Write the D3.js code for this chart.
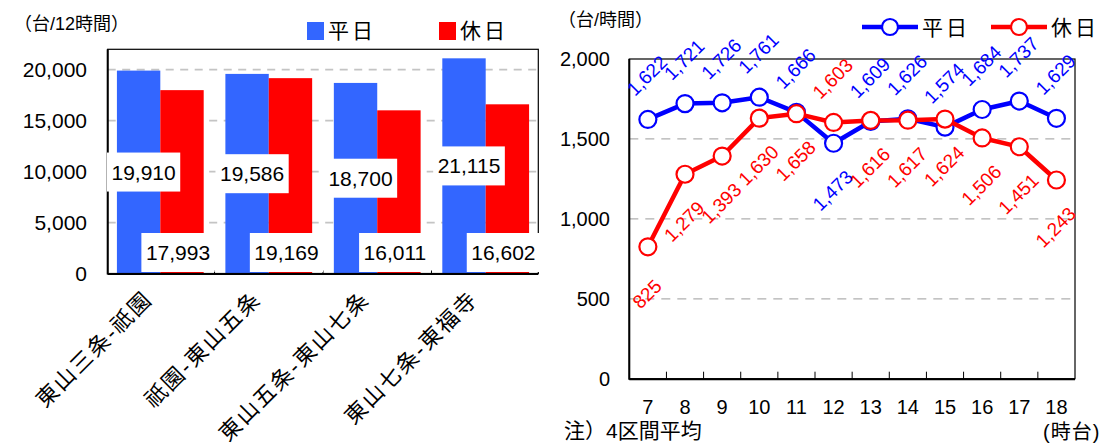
<!DOCTYPE html>
<html>
<head>
<meta charset="utf-8">
<script src="https://cdn.jsdelivr.net/npm/d3@7"></script>
<style>
  body { margin: 0; background: #fff; }
  text { font-family: "Liberation Sans", "Noto Sans CJK JP", sans-serif; fill: #000; }
</style>
</head>
<body>
<div id="chart"></div>
<script>
// left chart: 12h traffic per section
var sections = ["東山三条-祇園", "祇園-東山五条", "東山五条-東山七条", "東山七条-東福寺"];
var weekdayTotal = [19910, 19586, 18700, 21115];
var holidayTotal = [17993, 19169, 16011, 16602];
var leftTicks = [0, 5000, 10000, 15000, 20000];

// right chart: hourly average of 4 sections
var hours = ["7", "8", "9", "10", "11", "12", "13", "14", "15", "16", "17", "18"];
var weekdayHourly = [1622, 1721, 1726, 1761, 1666, 1473, 1609, 1626, 1574, 1684, 1737, 1629];
var holidayHourly = [825, 1279, 1393, 1630, 1658, 1603, 1616, 1617, 1624, 1506, 1451, 1243];
var rightTicks = [0, 500, 1000, 1500, 2000];

var barBlue = "#3366ff", barRed = "#ff0000";
var lineBlue = "#0000ff", lineRed = "#ff0000";
var fmt = d3.format(",");

var svg = d3.select("#chart").append("svg")
    .attr("width", 1106).attr("height", 446);

// ---------- left bar chart ----------
var L = {left: 107.7, right: 538.3, top: 49.3, bottom: 273.5};

var x0 = d3.scaleBand().domain(sections).range([L.left, L.right])
    .paddingInner(0.2).paddingOuter(0.085);
var x1 = d3.scaleBand().domain(["wd", "hd"]).range([0, x0.bandwidth()]);
var yL = d3.scaleLinear().domain([0, 22000]).range([L.bottom, L.top]);

var left = svg.append("g");

left.selectAll(".gridL").data(leftTicks.slice(1)).enter().append("line")
    .attr("x1", L.left).attr("x2", L.right)
    .attr("y1", function(d){ return yL(d); }).attr("y2", function(d){ return yL(d); })
    .attr("stroke", "#c4c4c4").attr("stroke-width", 1.8).attr("stroke-dasharray", "8,6.5");

var groups = left.selectAll(".grp").data(sections).enter().append("g")
    .attr("transform", function(d){ return "translate(" + x0(d) + ",0)"; });

groups.append("rect")
    .attr("x", x1("wd")).attr("width", x1.bandwidth())
    .attr("y", function(d, i){ return yL(weekdayTotal[i]); })
    .attr("height", function(d, i){ return yL(0) - yL(weekdayTotal[i]); })
    .attr("fill", barBlue);
groups.append("rect")
    .attr("x", x1("hd")).attr("width", x1.bandwidth())
    .attr("y", function(d, i){ return yL(holidayTotal[i]); })
    .attr("height", function(d, i){ return yL(0) - yL(holidayTotal[i]); })
    .attr("fill", barRed);

// frame
left.append("rect").attr("x", L.left).attr("y", L.top)
    .attr("width", L.right - L.left).attr("height", L.bottom - L.top)
    .attr("fill", "none").attr("stroke", "#000").attr("stroke-width", 1.2);
left.append("line").attr("x1", L.left).attr("x2", L.left).attr("y1", L.top).attr("y2", L.bottom + 1)
    .attr("stroke", "#000").attr("stroke-width", 2);
left.append("line").attr("x1", L.left).attr("x2", L.right).attr("y1", L.bottom + 0.5).attr("y2", L.bottom + 0.5)
    .attr("stroke", "#000").attr("stroke-width", 2);
left.selectAll(".tickL").data(sections.slice(1)).enter().append("line")
    .attr("x1", function(d){ return x0(d) - x0.step() * 0.1; })
    .attr("x2", function(d){ return x0(d) - x0.step() * 0.1; })
    .attr("y1", L.bottom).attr("y2", L.bottom - 3)
    .attr("stroke", "#000").attr("stroke-width", 1);

// value labels with white boxes
function boxLabel(g, x, y, txt) {
  var t = g.append("text").attr("x", x).attr("y", y).attr("dy", "0.36em")
      .attr("text-anchor", "middle").style("font-size", "21px").text(txt);
  var bb = t.node().getBBox();
  g.insert("rect", function(){ return t.node(); })
      .attr("x", bb.x - 4.5).attr("y", y - 19.5).attr("width", bb.width + 9).attr("height", 39)
      .attr("fill", "#fff");
}
var labG = left.append("g");
sections.forEach(function(s, i) {
  boxLabel(labG.append("g"), x0(s) + x1("wd") + x1.bandwidth() / 2 + 5, yL(weekdayTotal[i] / 2), fmt(weekdayTotal[i]));
  boxLabel(labG.append("g"), x0(s) + x1("hd") + x1.bandwidth() / 2 - 4, yL(0) - 21, fmt(holidayTotal[i]));
});

// y axis labels
left.selectAll(".ylab").data(leftTicks).enter().append("text")
    .attr("x", 87).attr("y", function(d){ return yL(d); }).attr("dy", "0.36em")
    .attr("text-anchor", "end").style("font-size", "21px")
    .text(function(d){ return fmt(d); });

// x category labels
left.selectAll(".xlab").data(sections).enter().append("text")
    .attr("transform", function(d){ return "translate(" + (x0(d) + x0.bandwidth() / 2 - 12) + ",295) rotate(-45)"; })
    .attr("text-anchor", "end").attr("dy", "0.35em")
    .style("font-size", "22px").style("letter-spacing", "2px")
    .text(function(d){ return d; });

left.append("text").attr("x", 14).attr("y", 30).style("font-size", "18px").text("（台/12時間）");

// legend
left.append("rect").attr("x", 307).attr("y", 22).attr("width", 17).attr("height", 18).attr("fill", barBlue);
left.append("text").attr("x", 328).attr("y", 38).style("font-size", "21px").style("letter-spacing", "3px").text("平日");
left.append("rect").attr("x", 439).attr("y", 22).attr("width", 17).attr("height", 18).attr("fill", barRed);
left.append("text").attr("x", 460).attr("y", 38).style("font-size", "21px").style("letter-spacing", "3px").text("休日");

// ---------- right line chart ----------
var R = {left: 629.3, right: 1075, top: 59, bottom: 378.7};
var xR = d3.scaleBand().domain(hours).range([R.left, R.right]);
var yR = d3.scaleLinear().domain([0, 2000]).range([R.bottom, R.top]);
var right = svg.append("g");

right.selectAll(".gridR").data(rightTicks.slice(1, -1)).enter().append("line")
    .attr("x1", R.left).attr("x2", R.right)
    .attr("y1", function(d){ return yR(d); }).attr("y2", function(d){ return yR(d); })
    .attr("stroke", "#b0b0b0").attr("stroke-width", 1.3).attr("stroke-dasharray", "9,7");

right.append("rect").attr("x", R.left).attr("y", R.top)
    .attr("width", R.right - R.left).attr("height", R.bottom - R.top)
    .attr("fill", "none").attr("stroke", "#000").attr("stroke-width", 1.2);
right.append("line").attr("x1", R.left).attr("x2", R.left).attr("y1", R.top).attr("y2", R.bottom + 1)
    .attr("stroke", "#000").attr("stroke-width", 2);
right.append("line").attr("x1", R.left).attr("x2", R.right).attr("y1", R.bottom + 0.5).attr("y2", R.bottom + 0.5)
    .attr("stroke", "#000").attr("stroke-width", 2);
right.selectAll(".tickR").data(hours.slice(1)).enter().append("line")
    .attr("x1", function(d){ return xR(d); }).attr("x2", function(d){ return xR(d); })
    .attr("y1", R.bottom).attr("y2", R.bottom - 7)
    .attr("stroke", "#000").attr("stroke-width", 1);

var cx = function(d, i){ return xR(hours[i]) + xR.bandwidth() / 2; };
var line = d3.line().x(cx).y(function(d){ return yR(d); });

function drawSeries(vals, color) {
  right.append("path").attr("d", line(vals)).attr("fill", "none")
      .attr("stroke", color).attr("stroke-width", 4.5).attr("stroke-linejoin", "round");
  right.selectAll(null).data(vals).enter().append("circle")
      .attr("cx", cx).attr("cy", function(d){ return yR(d); }).attr("r", 8.5)
      .attr("fill", "#fff").attr("stroke", color).attr("stroke-width", 2.2);
}
drawSeries(weekdayHourly, lineBlue);
drawSeries(holidayHourly, lineRed);

// data labels: weekday above, holiday below, swapped at 12h
var swapAt = "12";
function drawLabels(vals, color, above) {
  right.selectAll(null).data(vals).enter().append("text")
      .attr("transform", function(d, i){
        var up = (hours[i] === swapAt) ? !above : above;
        return "translate(" + (cx(d, i) - 1) + "," + (yR(d) + (up ? -44 : 47)) + ") rotate(-45)";
      })
      .attr("text-anchor", "middle").attr("dy", "0.36em")
      .style("font-size", "19px").style("fill", color)
      .text(function(d){ return fmt(d); });
}
drawLabels(weekdayHourly, lineBlue, true);
drawLabels(holidayHourly, lineRed, false);

right.selectAll(".ylabR").data(rightTicks).enter().append("text")
    .attr("x", 610).attr("y", function(d){ return yR(d); }).attr("dy", "0.36em")
    .attr("text-anchor", "end").style("font-size", "20px")
    .text(function(d){ return fmt(d); });

right.selectAll(".xlabR").data(hours).enter().append("text")
    .attr("x", function(d){ return xR(d) + xR.bandwidth() / 2; }).attr("y", 406.7).attr("dy", "0.36em")
    .attr("text-anchor", "middle").style("font-size", "20px")
    .text(function(d){ return d; });

right.append("text").attr("x", 558).attr("y", 26).style("font-size", "18px").text("（台/時間）");
right.append("text").attr("x", 564).attr("y", 438).style("font-size", "21px").text("注）4区間平均");
right.append("text").attr("x", 1043).attr("y", 439).style("font-size", "20px")
    .style("letter-spacing", "1px").text("(時台)");

// legend
[[862, lineBlue, "平日"], [991, lineRed, "休日"]].forEach(function(l) {
  right.append("line").attr("x1", l[0]).attr("x2", l[0] + 56).attr("y1", 27).attr("y2", 27)
      .attr("stroke", l[1]).attr("stroke-width", 4.5);
  right.append("circle").attr("cx", l[0] + 28).attr("cy", 27).attr("r", 8)
      .attr("fill", "#fff").attr("stroke", l[1]).attr("stroke-width", 2.2);
  right.append("text").attr("x", l[0] + 60).attr("y", 35).style("font-size", "21px")
      .style("letter-spacing", "3px").text(l[2]);
});
</script>
</body>
</html>
